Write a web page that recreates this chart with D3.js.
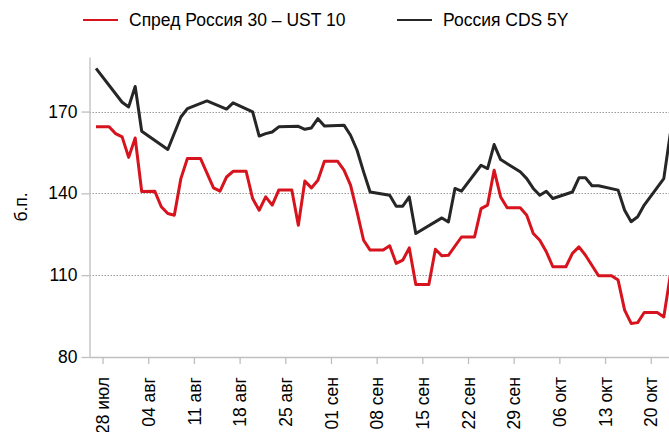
<!DOCTYPE html>
<html>
<head>
<meta charset="UTF-8">
<title>Спред Россия 30 – UST 10 и Россия CDS 5Y</title>
<script src="https://d3js.org/d3.v7.min.js"></script>
<style>
  body {margin: 0; background: #fff;}
  svg {display: block; font-family: "Liberation Sans", Arial, sans-serif;}
  .axis path, .axis line {stroke: #bfbfbf; stroke-width: 1.3px;}
  .axis text {fill: #000; font-size: 17.5px;}
  .grid line {stroke: #9a9a9a; stroke-width: 1px; stroke-dasharray: 1.5,1.5;}
</style>
</head>
<body>
<div id="chart"></div>
<script>
// ---- data ----
var spreadDates = ["2014-07-27","2014-07-29","2014-07-30","2014-07-31","2014-08-01","2014-08-02","2014-08-03",
  "2014-08-05","2014-08-06","2014-08-07","2014-08-08","2014-08-09","2014-08-10","2014-08-12","2014-08-14",
  "2014-08-15","2014-08-16","2014-08-17","2014-08-19","2014-08-20","2014-08-21","2014-08-22","2014-08-23",
  "2014-08-24","2014-08-26","2014-08-27","2014-08-28","2014-08-29","2014-08-30","2014-08-31","2014-09-02",
  "2014-09-03","2014-09-04","2014-09-05","2014-09-06","2014-09-07","2014-09-09","2014-09-10","2014-09-11",
  "2014-09-12","2014-09-13","2014-09-14","2014-09-16","2014-09-17","2014-09-18","2014-09-19","2014-09-21",
  "2014-09-23","2014-09-24","2014-09-25","2014-09-26","2014-09-27","2014-09-28","2014-09-30","2014-10-01",
  "2014-10-02","2014-10-03","2014-10-04","2014-10-05","2014-10-07","2014-10-08","2014-10-09","2014-10-10",
  "2014-10-12","2014-10-14","2014-10-15","2014-10-16","2014-10-17","2014-10-18","2014-10-19","2014-10-21",
  "2014-10-22","2014-10-23"];
var spreadValues = [164.4,164.4,161.9,160.7,153.2,160.3,140.7,
  140.8,135.1,132.6,132.0,145.4,152.8,152.8,142.0,
  140.8,146.0,148.1,148.1,138.1,133.8,138.7,135.7,
  141.2,141.2,128.3,144.5,142.0,144.8,151.8,151.8,
  148.5,143.0,133.2,122.8,119.2,119.2,120.8,114.3,
  115.5,120.0,106.6,106.6,119.5,117.1,117.3,124.0,
  124.0,134.4,135.7,148.5,138.7,134.7,134.7,132.0,
  125.3,122.8,118.6,113.1,113.1,118.0,120.4,117.3,
  109.8,109.8,108.2,97.2,92.3,92.6,96.3,96.3,
  94.7,110.0];

var cdsDates = ["2014-07-27","2014-07-31","2014-08-01","2014-08-02","2014-08-03","2014-08-07","2014-08-09",
  "2014-08-10","2014-08-13","2014-08-16","2014-08-17","2014-08-20","2014-08-21","2014-08-22","2014-08-23",
  "2014-08-24","2014-08-27","2014-08-28","2014-08-29","2014-08-30","2014-08-31","2014-09-03","2014-09-04",
  "2014-09-05","2014-09-06","2014-09-07","2014-09-10","2014-09-11","2014-09-12","2014-09-13","2014-09-14",
  "2014-09-18","2014-09-19","2014-09-20","2014-09-21","2014-09-24","2014-09-25","2014-09-26","2014-09-27",
  "2014-09-30","2014-10-01","2014-10-02","2014-10-03","2014-10-04","2014-10-05","2014-10-08","2014-10-09",
  "2014-10-10","2014-10-11","2014-10-12","2014-10-15","2014-10-16","2014-10-17","2014-10-18","2014-10-19",
  "2014-10-22","2014-10-23"];
var cdsValues = [185.8,173.4,171.7,179.2,162.8,156.1,168.0,
  171.1,173.9,170.9,173.2,169.9,161.0,161.9,162.5,
  164.4,164.6,163.5,164.0,167.4,164.7,165.0,161.3,
  155.8,147.9,140.5,139.3,135.3,135.3,138.7,125.3,
  131.0,129.5,141.8,140.8,150.3,149.1,157.9,152.4,
  147.9,145.4,141.8,139.3,140.8,138.1,140.5,145.7,
  145.7,142.8,142.8,141.2,133.8,129.6,131.4,135.7,
  145.4,162.0];

var seriesNames = ["Спред Россия 30 – UST 10", "Россия CDS 5Y"];
var seriesColors = ["#d7131d", "#262626"];
var yTicks = [80, 110, 140, 170];
var xTickDates = ["2014-07-28","2014-08-04","2014-08-11","2014-08-18","2014-08-25","2014-09-01","2014-09-08",
  "2014-09-15","2014-09-22","2014-09-29","2014-10-06","2014-10-13","2014-10-20"];
var monthsShort = ["янв","фев","мар","апр","май","июн","июл","авг","сен","окт","ноя","дек"];
var yLabel = "б.п.";

var parse = d3.timeParse("%Y-%m-%d");

var width = 669, height = 432;
var margin = {left: 89.5, top: 57, bottom: 75};

var svg = d3.select("#chart").append("svg")
    .attr("width", width)
    .attr("height", height);

var x = d3.scaleTime()
    .domain([parse("2014-07-26"), parse("2014-10-24")])
    .range([margin.left, margin.left + 90 * 6.526]);

var y = d3.scaleLinear()
    .domain([80, 190])
    .range([height - margin.bottom, margin.top]);

var plotRight = width;

// gridlines
svg.append("g").attr("class", "grid")
  .selectAll("line")
  .data(yTicks.filter(function(d) { return d > 80; }))
  .enter().append("line")
    .attr("x1", margin.left)
    .attr("x2", plotRight)
    .attr("y1", function(d) { return Math.round(y(d)) + 0.5; })
    .attr("y2", function(d) { return Math.round(y(d)) + 0.5; });

// y axis
var yAxis = svg.append("g")
    .attr("class", "axis")
    .attr("transform", "translate(" + margin.left + ",0)")
    .call(d3.axisLeft(y).tickValues(yTicks).tickSize(8).tickPadding(4).tickSizeOuter(0));

// x axis
var fmt = function(d) {
  return d3.timeFormat("%d")(d) + " " + monthsShort[d.getMonth()];
};
var xAxis = svg.append("g")
    .attr("class", "axis")
    .attr("transform", "translate(0," + y(80) + ")")
    .call(d3.axisBottom(x).tickValues(xTickDates.map(parse)).tickFormat(fmt).tickSize(7).tickSizeOuter(0));
xAxis.select(".domain").attr("d", "M" + margin.left + ",0.5H" + plotRight);
xAxis.selectAll("text")
    .attr("y", 0)
    .attr("x", -20)
    .attr("dy", "0.35em")
    .attr("transform", "rotate(-90)")
    .style("text-anchor", "end");

// y label
svg.append("text")
    .attr("transform", "translate(27," + ((margin.top + y(80)) / 2) + ") rotate(-90)")
    .style("text-anchor", "middle")
    .style("font-size", "17.5px")
    .text(yLabel);

// lines
var line = d3.line()
    .x(function(d) { return x(d.date); })
    .y(function(d) { return y(d.value); });

var series = [
  spreadDates.map(function(d, i) { return {date: parse(d), value: spreadValues[i]}; }),
  cdsDates.map(function(d, i) { return {date: parse(d), value: cdsValues[i]}; })
];

svg.selectAll(".series")
  .data(series)
  .enter().append("path")
    .attr("class", "series")
    .attr("d", line)
    .attr("fill", "none")
    .attr("stroke", function(d, i) { return seriesColors[i]; })
    .attr("stroke-width", 3)
    .attr("stroke-linejoin", "round");

// legend
var legendX = [83, 397];
var legend = svg.selectAll(".legend")
  .data(seriesNames)
  .enter().append("g")
    .attr("class", "legend")
    .attr("transform", function(d, i) { return "translate(" + legendX[i] + ",20)"; });
legend.append("line")
    .attr("x1", 0).attr("x2", 35)
    .attr("stroke", function(d, i) { return seriesColors[i]; })
    .attr("stroke-width", 2);
legend.append("text")
    .attr("x", 46)
    .attr("dy", "0.35em")
    .style("font-size", "17.5px")
    .text(function(d) { return d; });
</script>
</body>
</html>
